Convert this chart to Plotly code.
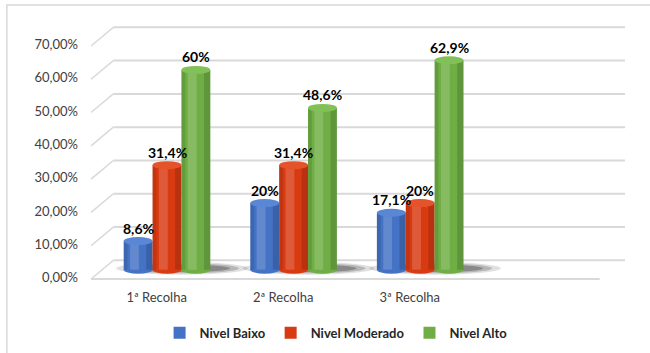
import plotly.graph_objects as go

# --- data ---
categories = ["1ª Recolha", "2ª Recolha", "3ª Recolha"]
series_names = ["Nivel Baixo", "Nivel Moderado", "Nivel Alto"]
nivel_baixo = [8.6, 20, 17.1]
nivel_moderado = [31.4, 31.4, 20]
nivel_alto = [60, 48.6, 62.9]
y_ticks = [0, 10, 20, 30, 40, 50, 60, 70]

# --- style ---
FONT = "Lato, 'Open Sans', sans-serif"
colors = ["#4472C4", "#D83B12", "#6FAE45"]
top_colors = ["#5A86D6", "#E5532B", "#82C058"]
bar_width = 0.228
bar_offsets = [-0.26, -0.032, 0.196]
grid_color = "#D9D9D9"
cap = 1.2          # half height of the cylinder caps (axis units)
back = 2.8         # depth shift of the back wall
front = -2.8       # depth shift of the front edge of the floor


def pct(v):
    return f"{v:g}".replace(".", ",") + "%"


series = [nivel_baixo, nivel_moderado, nivel_alto]
xs = list(range(len(categories)))

fig = go.Figure()
shapes = []
annotations = []

# back-wall gridlines with the slanted side wall segment
for v in y_ticks:
    shapes.append(dict(type="line", xref="x", yref="y", x0=-0.342, x1=3.7,
                       y0=v + back, y1=v + back, layer="below",
                       line=dict(color=grid_color, width=2)))
    shapes.append(dict(type="line", xref="x", yref="y", x0=-0.518, x1=-0.342,
                       y0=v + front, y1=v + back, layer="below",
                       line=dict(color=grid_color, width=1.5)))
# front edge of the floor
shapes.append(dict(type="line", xref="x", yref="y", x0=-0.518, x1=3.5,
                   y0=front, y1=front, layer="below",
                   line=dict(color=grid_color, width=2)))

# soft shadow under each group of cylinders
for x in xs:
    cx = x + 0.2
    for rx, ry, op in [(0.52, 1.9, 0.14), (0.45, 1.5, 0.22), (0.38, 1.1, 0.30)]:
        shapes.append(dict(type="circle", xref="x", yref="y", layer="below",
                           x0=cx - rx, x1=cx + rx, y0=0.4 - ry, y1=0.4 + ry,
                           fillcolor="#202020", opacity=op, line=dict(width=0)))

for s, vals in enumerate(series):
    # cylinder bodies
    fig.add_trace(go.Bar(
        x=xs, y=vals, base=0, width=bar_width, offset=bar_offsets[s],
        name=series_names[s], marker=dict(color=colors[s], line=dict(width=0)),
        hoverinfo="skip",
    ))
    # highlight and shade strips for the round look
    fig.add_trace(go.Bar(
        x=xs, y=vals, base=0, width=0.07, offset=bar_offsets[s] + 0.05,
        marker=dict(color="rgba(255,255,255,0.16)", line=dict(width=0)),
        showlegend=False, hoverinfo="skip",
    ))
    fig.add_trace(go.Bar(
        x=xs, y=vals, base=0, width=0.05, offset=bar_offsets[s] + bar_width - 0.05,
        marker=dict(color="rgba(0,0,0,0.14)", line=dict(width=0)),
        showlegend=False, hoverinfo="skip",
    ))
    fig.add_trace(go.Bar(
        x=xs, y=vals, base=0, width=0.03, offset=bar_offsets[s],
        marker=dict(color="rgba(0,0,0,0.10)", line=dict(width=0)),
        showlegend=False, hoverinfo="skip",
    ))
    for x, v in zip(xs, vals):
        x0 = x + bar_offsets[s]
        x1 = x0 + bar_width
        # rounded bottom
        shapes.append(dict(type="circle", xref="x", yref="y", layer="below",
                           x0=x0, x1=x1, y0=-cap, y1=cap,
                           fillcolor=colors[s], line=dict(width=0)))
        # top cap
        shapes.append(dict(type="circle", xref="x", yref="y", layer="above",
                           x0=x0, x1=x1, y0=v - cap, y1=v + cap,
                           fillcolor=top_colors[s], line=dict(width=0)))
        annotations.append(dict(x=(x0 + x1) / 2, y=v, xref="x", yref="y",
                                text=pct(v), showarrow=False, yshift=13,
                                font=dict(family=FONT, size=14, color="#000000",
                                          weight="bold")))

# outer chart frame
shapes.append(dict(type="rect", xref="paper", yref="paper",
                   x0=-0.149, x1=1.3, y0=-0.5, y1=1.018,
                   line=dict(color="#D9D9D9", width=1.5), layer="below"))

fig.update_layout(
    width=650, height=353,
    margin=dict(l=87, r=25, t=10, b=70, autoexpand=False),
    paper_bgcolor="white", plot_bgcolor="white",
    barmode="overlay",
    shapes=shapes,
    annotations=annotations,
    showlegend=True,
    legend=dict(orientation="h", x=0.463, xanchor="center", y=-0.182,
                yanchor="middle", font=dict(family=FONT, size=13,
                                            color="#262626", weight="bold"),
                itemclick=False, itemdoubleclick=False),
    xaxis=dict(range=[-0.55, 3.7], tickvals=xs, ticktext=categories,
               showgrid=False, zeroline=False, showline=False, ticks="",
               tickfont=dict(family=FONT, size=13, color="#404040"),
               ticklabelstandoff=5),
    yaxis=dict(range=[-4, 78], tickvals=y_ticks,
               ticktext=[f"{v:.2f}".replace(".", ",") + "%" for v in y_ticks],
               showgrid=False, zeroline=False, showline=False, ticks="",
               tickfont=dict(family=FONT, size=13, color="#404040"),
               ticklabelshift=8, ticklabelstandoff=8),
)

fig.write_html("out.html")
